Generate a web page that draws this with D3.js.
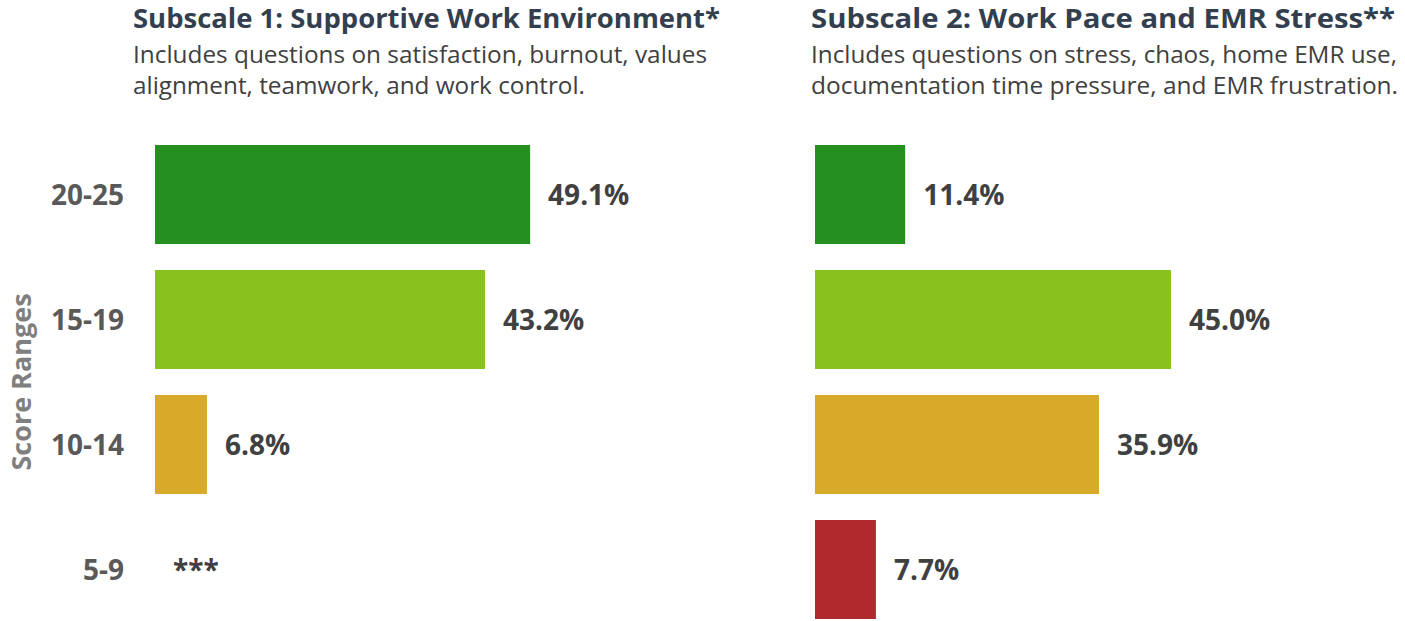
<!DOCTYPE html>
<html>
<head>
<meta charset="utf-8">
<script src="https://cdn.jsdelivr.net/npm/d3@7"></script>
<style>
  body { margin: 0; background: #fff; }
  svg { display: block; font-family: "Open Sans", sans-serif; }
</style>
</head>
<body>
<svg id="chart" width="1405" height="621"></svg>
<script>
var ranges = ["20-25", "15-19", "10-14", "5-9"],
    colors = ["#258f20", "#89c21f", "#d9aa29", "#b0292c"],
    sub1 = [49.1, 43.2, 6.8, null],   // null -> suppressed (***)
    sub2 = [11.4, 45.0, 35.9, 7.7],
    titles = ["Subscale 1: Supportive Work Environment*", "Subscale 2: Work Pace and EMR Stress**"],
    subtitles = [
        ["Includes questions on satisfaction, burnout, values", "alignment, teamwork, and work control."],
        ["Includes questions on stress, chaos, home EMR use,", "documentation time pressure, and EMR frustration."]
    ],
    suppressed = "***";

var svg = d3.select("#chart");

var y = d3.scaleBand()
    .domain(ranges)
    .range([132, 632])
    .paddingInner(0.208)
    .paddingOuter(0.104);

var x1 = d3.scaleLinear().domain([0, 50]).range([155, 537]),
    x2 = d3.scaleLinear().domain([0, 50]).range([815, 1210.5]);

// y axis title
svg.append("text")
    .attr("transform", "translate(31," + (y("15-19") + y.bandwidth() + (y.step() - y.bandwidth()) / 2) + ") rotate(-90)")
    .attr("text-anchor", "middle")
    .style("font-size", "27px")
    .style("font-weight", "700")
    .attr("fill", "#7f7f7f")
    .text("Score Ranges");

// category labels
svg.selectAll(".cat")
    .data(ranges)
    .enter().append("text")
    .attr("class", "cat")
    .attr("x", 124)
    .attr("y", d => y(d) + y.bandwidth() / 2)
    .attr("dy", "0.36em")
    .attr("text-anchor", "end")
    .style("font-size", "28px")
    .style("font-weight", "700")
    .attr("fill", "#595959")
    .text(d => d);

function panel(vals, x, tx, title, subs, tw, sw) {
    var g = svg.append("g");

    g.append("text")
        .attr("x", tx).attr("y", 28)
        .attr("textLength", tw).attr("lengthAdjust", "spacingAndGlyphs")
        .style("font-size", "26px").style("font-weight", "700")
        .attr("fill", "#333f4e")
        .text(title);

    g.selectAll(".sub")
        .data(subs)
        .enter().append("text")
        .attr("x", tx).attr("y", (d, i) => 63 + i * 31)
        .attr("textLength", (d, i) => sw[i]).attr("lengthAdjust", "spacingAndGlyphs")
        .style("font-size", "24px")
        .attr("fill", "#404040")
        .text(d => d);

    g.selectAll(".bar")
        .data(vals)
        .enter().append("rect")
        .filter(d => d != null)
        .attr("x", x(0))
        .attr("y", (d, i) => y(ranges[i]))
        .attr("width", d => x(d) - x(0))
        .attr("height", y.bandwidth())
        .attr("fill", (d, i) => colors[i]);

    g.selectAll(".val")
        .data(vals)
        .enter().append("text")
        .attr("x", d => x(d || 0) + 18)
        .attr("y", (d, i) => y(ranges[i]) + y.bandwidth() / 2)
        .attr("dy", "0.36em")
        .style("font-size", "28px").style("font-weight", "700")
        .attr("fill", "#404040")
        .text(d => d == null ? suppressed : d.toFixed(1) + "%");
}

panel(sub1, x1, 133, titles[0], subtitles[0], 587, [574, 452]);
panel(sub2, x2, 811, titles[1], subtitles[1], 584, [586, 587]);
</script>
</body>
</html>
